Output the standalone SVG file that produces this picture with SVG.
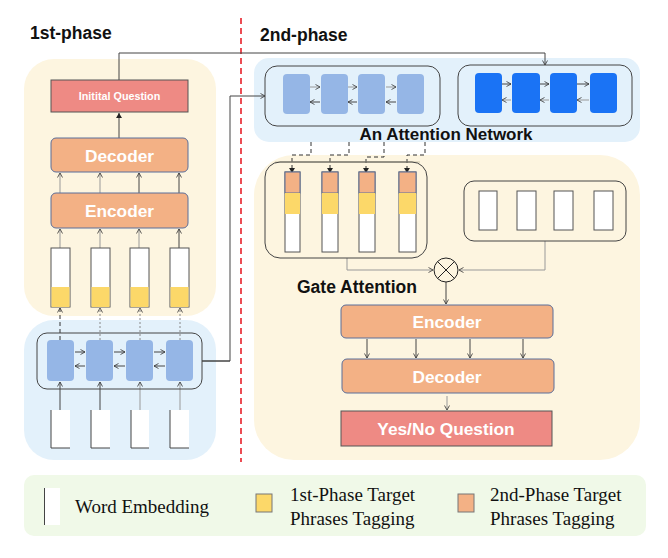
<svg xmlns="http://www.w3.org/2000/svg" width="668" height="558" viewBox="0 0 668 558">
<defs>
<marker id="ah" markerWidth="6" markerHeight="6" refX="5" refY="3" orient="auto" markerUnits="userSpaceOnUse">
<path d="M0.5,0.5 L5,3 L0.5,5.5" fill="none" stroke="#333" stroke-width="0.8"/>
</marker>
<marker id="af" markerWidth="6" markerHeight="6" refX="5" refY="3" orient="auto" markerUnits="userSpaceOnUse">
<path d="M0,0 L5,3 L0,6 z" fill="#222"/>
</marker>
<style>
.title{font-family:"Liberation Sans",Arial,sans-serif;font-weight:bold;font-size:17.5px;fill:#111}
.wt{font-family:"Liberation Sans",Arial,sans-serif;font-weight:bold;font-size:17.3px;fill:#fff;text-anchor:middle}
.wts{font-family:"Liberation Sans",Arial,sans-serif;font-weight:bold;font-size:10.8px;fill:#fff;text-anchor:middle}
.leg{font-family:"Liberation Serif","Times New Roman",serif;font-size:19px;fill:#111}
.ed{fill:#f3b185;stroke:#5a6e9a;stroke-width:1}
.q{fill:#ee8a84;stroke:#555;stroke-width:1}
.lb{fill:#95b6e6}
.db{fill:#1a73f5}
.wh{fill:#fff;stroke:#555;stroke-width:1}
.frame{fill:none;stroke:#444;stroke-width:1}
.c{fill:none;stroke:#444;stroke-width:1}
.cl{fill:none;stroke:#999;stroke-width:1}
.cd{fill:none;stroke:#333;stroke-width:1;stroke-dasharray:4,3}
.cdl{fill:none;stroke:#888;stroke-width:1;stroke-dasharray:2,2}
</style>
</defs>
<rect width="668" height="558" fill="#fff"/>
<!-- panels -->
<rect x="24" y="59" width="192" height="257" rx="30" fill="#fdf5e0"/>
<rect x="24" y="320" width="192" height="140" rx="30" fill="#e3f1fb"/>
<rect x="254" y="58" width="386" height="84" rx="15" fill="#e3f1fb"/>
<rect x="254" y="155" width="386" height="305" rx="40" fill="#fdf5e0"/>
<rect x="24" y="475" width="622" height="61" rx="10" fill="#f0f9e8"/>
<line x1="241" y1="18" x2="241" y2="462" stroke="#e8212a" stroke-width="1.6" stroke-dasharray="6,4"/>
<text x="30" y="39" class="title">1st-phase</text>
<text x="260" y="41" class="title">2nd-phase</text>
<!-- connectors -->
<g id="connectors">
<path d="M119,80 V53 H545 V65" class="c" marker-end="url(#ah)"/>
<path d="M119,138 V113" class="c" stroke="#111" marker-end="url(#af)"/>
<path d="M60,193 V173" class="cl" marker-end="url(#ah)"/>
<path d="M100,193 V173" class="cl" stroke="#ddd" marker-end="url(#ah)"/>
<path d="M139,193 V173" class="c" marker-end="url(#ah)"/>
<path d="M179,193 V173" class="c" stroke="#111" marker-end="url(#ah)"/>
<path d="M60,248 V229" class="cl" marker-end="url(#ah)"/>
<path d="M100,248 V229" class="cl" stroke="#ddd" marker-end="url(#ah)"/>
<path d="M139,248 V229" class="cl" marker-end="url(#ah)"/>
<path d="M179,248 V229" class="c" stroke="#111" marker-end="url(#ah)"/>
<path d="M60,340 V308" class="cd" stroke-dasharray="2,2" marker-end="url(#ah)"/>
<path d="M100,340 V308" class="cdl" marker-end="url(#ah)"/>
<path d="M140,340 V308" class="cdl" stroke="#bbb" marker-end="url(#ah)"/>
<path d="M180,340 V308" class="cdl" marker-end="url(#ah)"/>
<path d="M60,410 V382" class="c" stroke="#111" stroke-width="1.3" marker-end="url(#ah)"/>
<path d="M100,410 V382" class="c" stroke="#111" stroke-width="1.3" marker-end="url(#ah)"/>
<path d="M140,410 V382" class="cl" marker-end="url(#ah)"/>
<path d="M180,410 V382" class="cl" stroke="#bbb" marker-end="url(#ah)"/>
<path d="M75,352 H85" class="c" marker-end="url(#ah)"/>
<path d="M85,366 H75" class="c" marker-end="url(#ah)"/>
<path d="M114,352 H125" class="c" marker-end="url(#ah)"/>
<path d="M125,366 H114" class="c" marker-end="url(#ah)"/>
<path d="M154,352 H165" class="c" marker-end="url(#ah)"/>
<path d="M165,366 H154" class="c" marker-end="url(#ah)"/>
<path d="M202,361 H230 V96" class="c" stroke="#ddd"/>
<path d="M230,361 H202" class="c"/>
<path d="M230,96 H265" class="c" stroke="#555" marker-end="url(#ah)"/>
<path d="M310,87 H320" class="cl" marker-end="url(#ah)"/>
<path d="M320,102 H310" class="c" marker-end="url(#ah)"/>
<path d="M348,87 H357" class="cl" marker-end="url(#ah)"/>
<path d="M357,102 H348" class="c" marker-end="url(#ah)"/>
<path d="M386,87 H396" class="cl" marker-end="url(#ah)"/>
<path d="M396,102 H386" class="c" marker-end="url(#ah)"/>
<path d="M502,84 H511" class="c" stroke-width="1.3" marker-end="url(#ah)"/>
<path d="M511,100 H502" class="cl" stroke="#bbb" marker-end="url(#ah)"/>
<path d="M540,84 H549" class="c" stroke-width="1.3" marker-end="url(#ah)"/>
<path d="M549,100 H540" class="cl" stroke="#bbb" marker-end="url(#ah)"/>
<path d="M577,84 H589" class="c" stroke-width="1.3" marker-end="url(#ah)"/>
<path d="M589,100 H577" class="cl" stroke="#bbb" marker-end="url(#ah)"/>
<path d="M311,142 V155 H292 V173" class="cd" marker-end="url(#af)"/>
<path d="M349,142 V155 H330 V173" class="cd" marker-end="url(#af)"/>
<path d="M384,142 V157 H366 V173" class="cd" stroke="#666" marker-end="url(#af)"/>
<path d="M425,142 V155 H407 V173" class="cd" marker-end="url(#af)"/>
<line x1="275" y1="162" x2="420" y2="162" stroke="#ccc4a8" stroke-width="1"/>
<path d="M347,258 V270 H433" class="cl" stroke="#aaa" marker-end="url(#ah)"/>
<path d="M545,241 V270 H459" class="cl" stroke="#ccc" marker-end="url(#ah)"/>
<path d="M446,282 V304" class="c" stroke="#222" marker-end="url(#ah)"/>
<path d="M367,339 V358" class="c" marker-end="url(#ah)"/>
<path d="M416,339 V358" class="c" stroke="#111" marker-end="url(#ah)"/>
<path d="M470,339 V358" class="c" stroke="#777" marker-end="url(#ah)"/>
<path d="M523,339 V358" class="c" marker-end="url(#ah)"/>
<path d="M447,396 V410" class="cl" marker-end="url(#ah)"/>
</g>
<g id="initial-question">
<rect x="51" y="80" width="137" height="32" class="q"/>
<text x="119.5" y="100" class="wts">Initital Question</text>
</g>
<g id="decoder1">
<rect x="51" y="138" width="137" height="34" rx="5" class="ed"/>
<text x="119.5" y="161.5" class="wt">Decoder</text>
</g>
<g id="encoder1">
<rect x="51" y="193" width="137" height="35" rx="5" class="ed"/>
<text x="119.5" y="217" class="wt">Encoder</text>
</g>
<g id="tag-columns1">
<rect x="51" y="248" width="19" height="59" class="wh"/><rect x="51.5" y="287" width="18" height="20" fill="#fcd869"/>
<rect x="91" y="248" width="19" height="59" class="wh"/><rect x="91.5" y="287" width="18" height="20" fill="#fcd869"/>
<rect x="130" y="248" width="19" height="59" class="wh"/><rect x="130.5" y="287" width="18" height="20" fill="#fcd869"/>
<rect x="170" y="248" width="19" height="59" class="wh"/><rect x="170.5" y="287" width="18" height="20" fill="#fcd869"/>
</g>
<g id="bilstm1">
<rect x="37" y="333" width="165" height="56" rx="10" class="frame" stroke="#777"/>
<rect x="47" y="340" width="27" height="41" rx="4" class="lb"/>
<rect x="86" y="340" width="27" height="41" rx="4" class="lb"/>
<rect x="126" y="340" width="27" height="41" rx="4" class="lb"/>
<rect x="166" y="340" width="27" height="41" rx="4" class="lb"/>
</g>
<g id="word-embeddings">
<rect x="51" y="410" width="19" height="38" fill="#fff"/><path d="M51,410 V448 H70" class="c" stroke="#555"/>
<rect x="91" y="410" width="19" height="38" fill="#fff"/><path d="M91,410 V448 H110" class="c" stroke="#555"/>
<rect x="131" y="410" width="18" height="38" fill="#fff"/><path d="M131,410 V448 H149" class="c" stroke="#555"/>
<rect x="170" y="410" width="19" height="38" fill="#fff"/><path d="M170,410 V448 H189" class="c" stroke="#555"/>
</g>
<g id="attention-network">
<rect x="265" y="66" width="175" height="60" rx="12" class="frame"/>
<rect x="283" y="74" width="27" height="40" rx="4" class="lb"/>
<rect x="321" y="74" width="27" height="40" rx="4" class="lb"/>
<rect x="358" y="74" width="27" height="40" rx="4" class="lb"/>
<rect x="397" y="74" width="27" height="40" rx="4" class="lb"/>
<rect x="458" y="65" width="174" height="61" rx="12" class="frame"/>
<rect x="475" y="73" width="27" height="40" rx="4" class="db"/>
<rect x="512" y="73" width="28" height="40" rx="4" class="db"/>
<rect x="550" y="73" width="27" height="40" rx="4" class="db"/>
<rect x="590" y="73" width="27" height="40" rx="4" class="db"/>
<text x="446" y="140" class="title" text-anchor="middle" style="font-size:17px">An Attention Network</text>
</g>
<g id="gate-left">
<rect x="265" y="162" width="162" height="96" rx="15" class="frame" stroke="#555"/>
<rect x="285" y="172" width="15" height="80" class="wh"/><rect x="285" y="172" width="15" height="21" class="ed" stroke="#555"/><rect x="285" y="193" width="15" height="21" fill="#fcd869"/>
<rect x="322" y="172" width="16" height="80" class="wh"/><rect x="322" y="172" width="16" height="21" class="ed" stroke="#555"/><rect x="322" y="193" width="16" height="21" fill="#fcd869"/>
<rect x="359" y="172" width="16" height="80" class="wh"/><rect x="359" y="172" width="16" height="21" class="ed" stroke="#555"/><rect x="359" y="193" width="16" height="21" fill="#fcd869"/>
<rect x="399" y="172" width="17" height="80" class="wh"/><rect x="399" y="172" width="17" height="21" class="ed" stroke="#555"/><rect x="399" y="193" width="17" height="21" fill="#fcd869"/>
</g>
<g id="gate-right">
<rect x="464" y="181" width="162" height="60" rx="10" class="frame" stroke="#555"/>
<rect x="479" y="191" width="18" height="39" class="wh"/>
<rect x="517" y="191" width="19" height="39" class="wh"/>
<rect x="554" y="191" width="19" height="39" class="wh"/>
<rect x="594" y="191" width="19" height="39" class="wh"/>
</g>
<g id="gate-op">
<circle cx="446" cy="270" r="12" fill="none" stroke="#222" stroke-width="1"/>
<path d="M437.5,261.5 L454.5,278.5 M454.5,261.5 L437.5,278.5" stroke="#222" stroke-width="1"/>
<text x="297" y="293" class="title">Gate Attention</text>
</g>
<g id="encoder2">
<rect x="341" y="305" width="212" height="33" rx="5" class="ed"/>
<text x="447" y="328" class="wt">Encoder</text>
</g>
<g id="decoder2">
<rect x="342" y="359" width="212" height="34" rx="5" class="ed"/>
<text x="447" y="382.5" class="wt">Decoder</text>
</g>
<g id="yesno-question">
<rect x="341" y="411" width="211" height="35" class="q"/>
<text x="446" y="435" class="wt">Yes/No Question</text>
</g>
<g id="legend">
<rect x="44" y="488" width="16" height="37" fill="#fff"/><line x1="44.5" y1="488" x2="44.5" y2="525" stroke="#444"/>
<text x="75" y="513" class="leg">Word Embedding</text>
<rect x="256" y="494" width="16" height="18" fill="#fcd869" stroke="#777"/>
<text x="290" y="501" class="leg">1st-Phase Target</text>
<text x="290" y="525" class="leg">Phrases Tagging</text>
<rect x="458" y="494" width="16" height="18" fill="#f3b185" stroke="#777"/>
<text x="490" y="501" class="leg">2nd-Phase Target</text>
<text x="490" y="525" class="leg">Phrases Tagging</text>
</g>
</svg>
